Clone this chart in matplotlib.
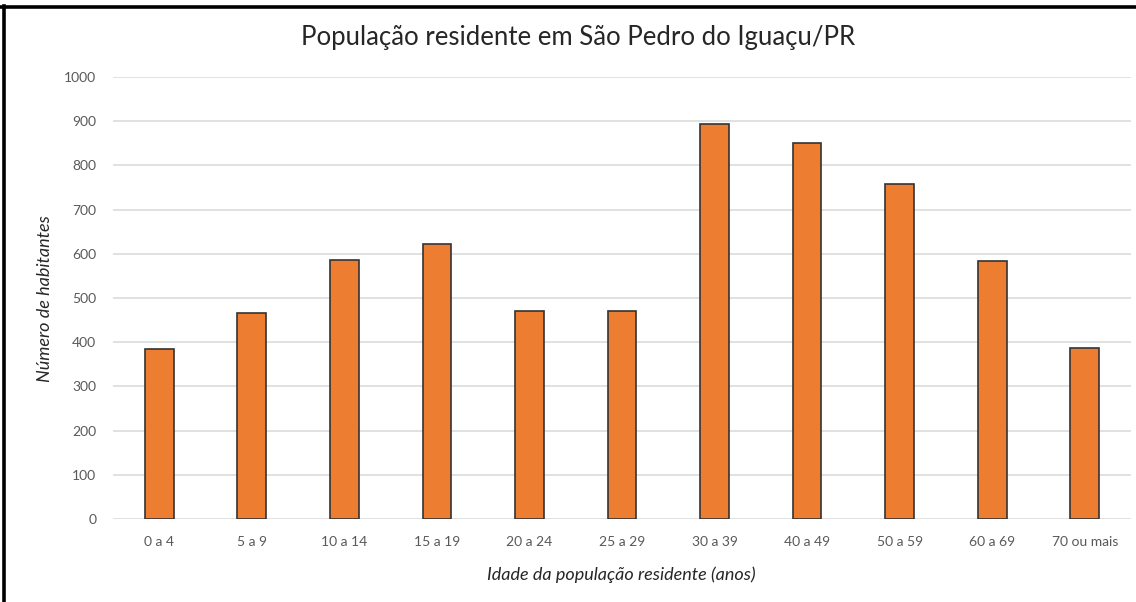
import matplotlib
matplotlib.use("Agg")
import matplotlib.pyplot as plt
from matplotlib.lines import Line2D

categories = ["0 a 4", "5 a 9", "10 a 14", "15 a 19", "20 a 24", "25 a 29",
              "30 a 39", "40 a 49", "50 a 59", "60 a 69", "70 ou mais"]
values = [385, 467, 587, 622, 470, 470, 893, 851, 759, 583, 388]
yticks = [0, 100, 200, 300, 400, 500, 600, 700, 800, 900, 1000]

plt.rcParams['font.family'] = ['Lato', 'DejaVu Sans']

W, H = 1136, 602
fig = plt.figure(figsize=(W / 100, H / 100), dpi=100)
ax = fig.add_axes([113 / W, 1 - 519 / H, (1131 - 113) / W, (519 - 77) / H])

x = list(range(len(categories)))
ax.bar(x, values, width=0.31, color="#ED7D31", edgecolor="#333333", linewidth=1.2, zorder=3)

ax.set_xlim(-0.5, len(categories) - 0.5)
ax.set_ylim(0, 1000)
ax.set_yticks(yticks)
ax.set_xticks(x)
ax.set_xticklabels(categories)
ax.yaxis.grid(True, color="#D9D9D9", linewidth=1.1, zorder=0)
ax.set_axisbelow(True)
for s in ax.spines.values():
    s.set_visible(False)
ax.tick_params(axis="both", length=0, labelsize=10, labelcolor="#595959")
ax.tick_params(axis="x", pad=12)
ax.tick_params(axis="y", pad=12)

fig.text(578 / W, 1 - 38 / H, "População residente em São Pedro do Iguaçu/PR",
         ha="center", va="center", fontsize=18.5, color="#262626")
fig.text(621 / W, 1 - 575 / H, "Idade da população residente (anos)",
         ha="center", va="center", fontsize=13, style="italic", color="#262626")
fig.text(45 / W, 1 - 299 / H, "Número de habitantes", rotation=90,
         ha="center", va="center", fontsize=13, style="italic", color="#262626")

# black border lines (top and left)
fig.add_artist(Line2D([0, 1], [1 - 7 / H, 1 - 7 / H], transform=fig.transFigure, color="black", linewidth=2.6))
fig.add_artist(Line2D([4 / W, 4 / W], [0, 1 - 6 / H], transform=fig.transFigure, color="black", linewidth=2.6))

fig.savefig("out.png", dpi=100, facecolor="white")
